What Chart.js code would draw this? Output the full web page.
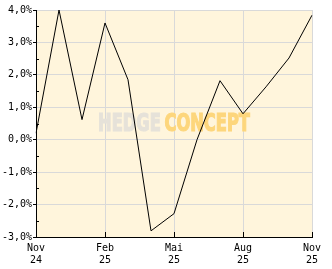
<!DOCTYPE html>
<html>
<head>
<meta charset="utf-8">
<script src="https://cdn.jsdelivr.net/npm/chart.js@4/dist/chart.umd.min.js"></script>
<style>
  html, body { margin: 0; padding: 0; background: #fff; }
  #wrap { width: 332px; height: 269px; }
</style>
</head>
<body>
<div id="wrap"><canvas id="perfChart"></canvas></div>
<script>
// monatliche Werte (Performance in %)
const months = ['Nov 24', 'Dez 24', 'Jan 25', 'Feb 25', 'Mär 25', 'Apr 25', 'Mai 25',
                'Jun 25', 'Jul 25', 'Aug 25', 'Sep 25', 'Okt 25', 'Nov 25'];
const perf = [0.2, 4.0, 0.62, 3.6, 1.85, -2.81, -2.28, 0.0, 1.82, 0.8, 1.63, 2.52, 3.84];
const yTicks = [-3, -2, -1, 0, 1, 2, 3, 4];
const yMinorTicks = [-2.5, -1.5, -0.5, 0.5, 1.5, 2.5, 3.5];

const tickFont = { family: 'DejaVu Sans Mono', size: 10 };

const areaPlugin = {
    id: 'areaPlugin',
    beforeDraw(chart) {
        const { ctx, chartArea: a } = chart;
        ctx.save();
        ctx.fillStyle = '#fff5dc';
        ctx.fillRect(a.left, a.top, a.right - a.left, a.bottom - a.top);
        ctx.restore();
    },
    beforeDatasetsDraw(chart) {
        // Wasserzeichen
        const { ctx, chartArea: a } = chart;
        const cx = (a.left + a.right) / 2;
        const cy = (a.top + a.bottom) / 2 + 1;
        ctx.save();
        ctx.font = 'bold 24px "DejaVu Sans Condensed", "Liberation Sans Narrow", sans-serif';
        ctx.textBaseline = 'middle';
        ctx.lineWidth = 1.2;
        const w1 = ctx.measureText('HEDGE').width;
        const gap = 5;
        const w2 = ctx.measureText('CONCEPT').width;
        const target = (a.right - a.left) * 0.55;
        const sx = target / (w1 + gap + w2);
        ctx.translate(cx - target / 2, cy);
        ctx.scale(sx, 1.0);
        ctx.fillStyle = ctx.strokeStyle = '#e6e2d9';
        ctx.fillText('HEDGE', 0, 0);
        ctx.strokeText('HEDGE', 0, 0);
        ctx.fillStyle = ctx.strokeStyle = '#fdd67c';
        ctx.fillText('CONCEPT', w1 + gap, 0);
        ctx.strokeText('CONCEPT', w1 + gap, 0);
        ctx.restore();
    },
    afterDraw(chart) {
        // kleine Striche innen
        const { ctx, chartArea: a, scales } = chart;
        ctx.save();
        ctx.strokeStyle = '#000';
        ctx.lineWidth = 1;
        ctx.beginPath();
        yMinorTicks.forEach(v => {
            const y = Math.round(scales.y.getPixelForValue(v)) + 0.5;
            ctx.moveTo(a.left, y);
            ctx.lineTo(a.left + 3, y);
        });
        months.forEach((m, i) => {
            if (i % 3 !== 0) return;
            const x = Math.round(scales.x.getPixelForValue(i)) + 0.5;
            ctx.moveTo(x, a.bottom);
            ctx.lineTo(x, a.bottom - 5);
        });
        ctx.stroke();
        ctx.restore();
    }
};

const ctx = document.getElementById('perfChart').getContext('2d');
new Chart(ctx, {
    type: 'line',
    data: {
        labels: months,
        datasets: [{
            data: perf,
            borderColor: '#000',
            borderWidth: 1,
            pointRadius: 0,
            tension: 0,
            fill: false
        }]
    },
    options: {
        responsive: true,
        maintainAspectRatio: false,
        animation: false,
        layout: { padding: { top: 10, right: 20, left: 0, bottom: 0 } },
        plugins: {
            legend: { display: false },
            tooltip: { enabled: false }
        },
        scales: {
            x: {
                type: 'category',
                offset: false,
                afterFit(scale) { scale.height = 32; },
                border: { color: '#000', width: 1 },
                grid: {
                    color: c => (c.index % 3 === 0 ? '#d9d9d9' : 'rgba(0,0,0,0)'),
                    drawTicks: false
                },
                ticks: {
                    autoSkip: false,
                    maxRotation: 0,
                    padding: 5,
                    color: '#000',
                    font: tickFont,
                    callback: (v, i) => (i % 3 === 0 ? months[i].split(' ') : '')
                }
            },
            y: {
                min: -3,
                max: 4,
                afterFit(scale) { scale.width = 36; },
                afterBuildTicks(scale) { scale.ticks = yTicks.map(v => ({ value: v })); },
                border: { color: '#000', width: 1 },
                grid: {
                    color: '#d9d9d9',
                    tickColor: '#000',
                    tickLength: 3
                },
                ticks: {
                    padding: 1,
                    color: '#000',
                    font: tickFont,
                    callback: v => v.toFixed(1).replace('.', ',') + '%'
                }
            }
        }
    },
    plugins: [areaPlugin]
});
</script>
</body>
</html>
